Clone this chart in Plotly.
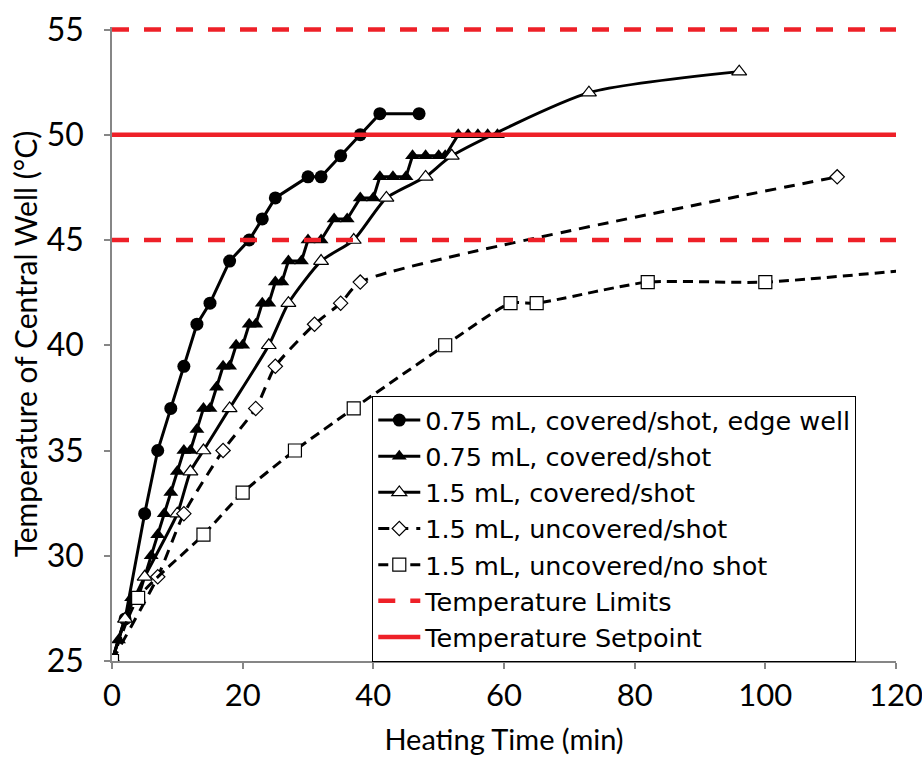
import plotly.graph_objects as go

# Heating curves: time (min) vs. temperature of the central well (°C)
edge_t = [0, 2, 5, 7, 9, 11, 13, 15, 18, 21, 23, 25, 30, 32, 35, 38, 41, 47]
edge_T = [25, 27, 32, 35, 37, 39, 41, 42, 44, 45, 46, 47, 48, 48, 49, 50, 51, 51]

cov075_t = [0, 1, 2, 3, 4, 5, 6, 7, 8, 9, 10, 11, 12, 13, 14, 15, 16, 17, 18, 19, 20,
            21, 22, 23, 24, 25, 26, 27, 29, 30, 32, 34, 36, 38, 40, 41, 43, 45, 46, 48,
            50, 51, 53, 54.5, 56, 57.5, 59]
cov075_T = [25, 26, 27, 28, 28, 29, 30, 31, 32, 33, 34, 35, 35, 36, 37, 37, 38, 39, 39, 40, 40,
            41, 41, 42, 42, 43, 43, 44, 44, 45, 45, 46, 46, 47, 47, 48, 48, 48, 49, 49,
            49, 49, 50, 50, 50, 50, 50]

cov15_t = [0, 2, 5, 10, 12, 14, 18, 24, 27, 32, 37, 42, 48, 52, 73, 96]
cov15_T = [25, 27, 29, 32, 34, 35, 37, 40, 42, 44, 45, 47, 48, 49, 52, 53]

unc_shot_t = [0, 7, 11, 17, 22, 25, 31, 35, 38, 111]
unc_shot_T = [25, 29, 32, 35, 37, 39, 41, 42, 43, 48]

unc_noshot_t = [0, 4, 14, 20, 28, 37, 51, 61, 65, 82, 100, 136]
unc_noshot_T = [25, 28, 31, 33, 35, 37, 40, 42, 42, 43, 43, 44]

x_range = [0, 120]
y_ticks = [25, 30, 35, 40, 45, 50, 55]
limit_T = [45, 55]
setpoint_T = 50

BLACK = "#000000"
RED = "#EE2028"
AXIS_GRAY = "#868686"

fig = go.Figure()

fig.add_trace(go.Scatter(
    x=edge_t, y=edge_T, mode="lines+markers",
    name="0.75 mL, covered/shot, edge well",
    line=dict(color=BLACK, width=3),
    marker=dict(symbol="circle", size=13, color=BLACK),
))
fig.add_trace(go.Scatter(
    x=cov075_t, y=cov075_T, mode="lines+markers",
    name="0.75 mL, covered/shot",
    line=dict(color=BLACK, width=3),
    marker=dict(symbol="triangle-up", size=13, color=BLACK),
))
fig.add_trace(go.Scatter(
    x=cov15_t, y=cov15_T, mode="lines+markers",
    name="1.5 mL, covered/shot",
    line=dict(color=BLACK, width=3, shape="spline", smoothing=0.6),
    marker=dict(symbol="triangle-up", size=13, color="white",
                line=dict(color=BLACK, width=1.2)),
))
fig.add_trace(go.Scatter(
    x=unc_shot_t, y=unc_shot_T, mode="lines+markers",
    name="1.5 mL, uncovered/shot",
    line=dict(color=BLACK, width=3, dash="11px,8px", shape="spline", smoothing=0.6),
    marker=dict(symbol="diamond", size=11, color="white",
                line=dict(color=BLACK, width=1.2)),
))
fig.add_trace(go.Scatter(
    x=unc_noshot_t, y=unc_noshot_T, mode="lines+markers",
    name="1.5 mL, uncovered/no shot",
    line=dict(color=BLACK, width=3, dash="10px,6px", shape="spline", smoothing=0.6),
    marker=dict(symbol="square", size=13, color="white",
                line=dict(color=BLACK, width=1.2)),
))

# Upper and lower limits share one legend entry
lim_x, lim_y = [], []
for i, v in enumerate(limit_T):
    if i:
        lim_x.append(None)
        lim_y.append(None)
    lim_x += x_range
    lim_y += [v, v]
fig.add_trace(go.Scatter(
    x=lim_x, y=lim_y, mode="lines", connectgaps=False,
    name="Temperature Limits",
    line=dict(color=RED, width=4.5, dash="17px,15px"),
))
fig.add_trace(go.Scatter(
    x=x_range, y=[setpoint_T, setpoint_T], mode="lines",
    name="Temperature Setpoint",
    line=dict(color=RED, width=4.5),
))

TICK_FONT = "Lato, Open Sans, sans-serif"
LEG_FONT = "DejaVu Sans, Open Sans, sans-serif"

# a little headroom so the 55 °C limit line is not cut in half at the top edge
y_top = 55.12
fig.update_layout(
    width=922, height=758,
    margin=dict(l=112, r=26, t=26.5, b=97),
    paper_bgcolor="white", plot_bgcolor="white",
    font=dict(family=TICK_FONT, size=22, color=BLACK),
    showlegend=True,
    legend=dict(
        x=0.332, y=0.418, xanchor="left", yanchor="top",
        bgcolor="white", bordercolor=BLACK, borderwidth=1,
        font=dict(family=LEG_FONT, size=25.5, color=BLACK),
        tracegroupgap=0, itemwidth=42,
    ),
    xaxis=dict(
        range=x_range, dtick=20, showgrid=False, zeroline=False,
        showline=True, linecolor=AXIS_GRAY, linewidth=1.5,
        ticks="outside", ticklen=6, tickcolor=AXIS_GRAY, tickwidth=1.5,
        tickfont=dict(size=31, color=BLACK), ticklabeloverflow="allow",
        automargin=False,
        title=dict(text="Heating Time (min)", font=dict(size=29), standoff=18),
    ),
    yaxis=dict(
        range=[25, y_top], tickvals=y_ticks, showgrid=False, zeroline=False,
        showline=True, linecolor=AXIS_GRAY, linewidth=1.5,
        ticks="outside", ticklen=6, tickcolor=AXIS_GRAY, tickwidth=1.5,
        tickfont=dict(size=32, color=BLACK), ticklabelstandoff=14,
        ticklabeloverflow="allow", automargin=False,
        title=dict(text="Temperature of Central Well (°C)", font=dict(size=30), standoff=0),
    ),
)

fig.write_html("out.html")
